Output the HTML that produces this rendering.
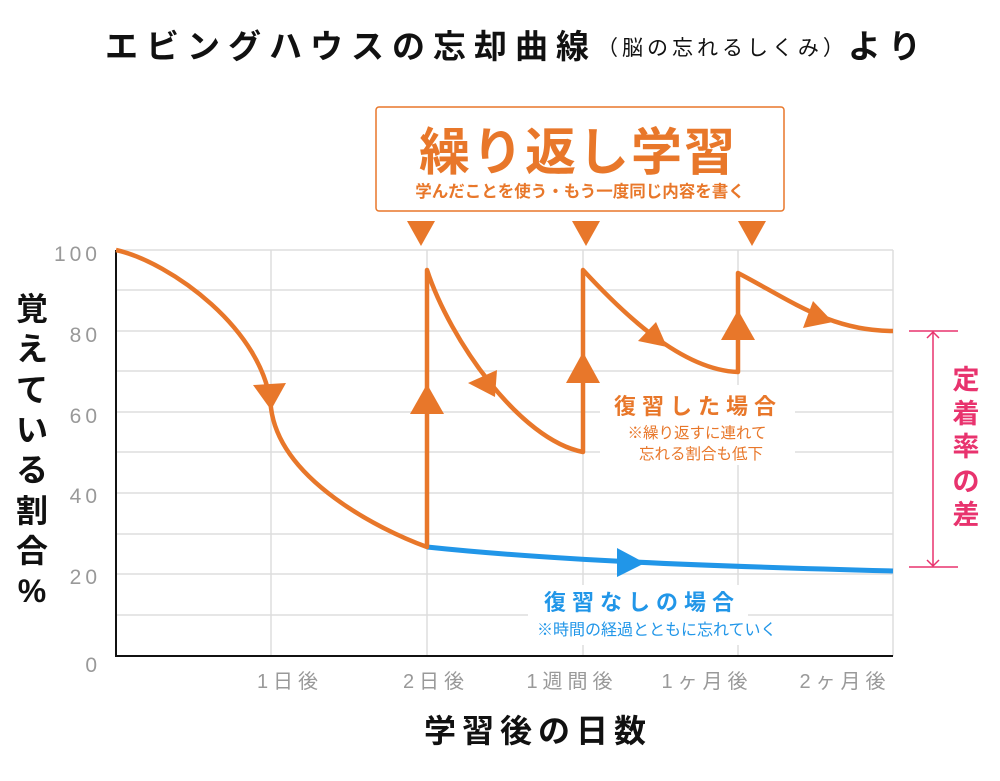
<!DOCTYPE html>
<html><head><meta charset="utf-8"><style>
body{margin:0;background:#fff;}
svg{display:block;}
text{font-family:"Liberation Sans","Noto Sans CJK JP",sans-serif;}
</style></head><body>
<svg width="1000" height="781" viewBox="0 0 1000 781" xmlns="http://www.w3.org/2000/svg">
<text x="105" y="58" font-size="33" font-weight="bold" fill="#111" letter-spacing="8">エビングハウスの忘却曲線<tspan font-size="21" font-weight="normal" dy="-3" letter-spacing="4">（脳の忘れるしくみ）</tspan><tspan dy="3">より</tspan></text>
<g stroke="#ddd" stroke-width="1.5">
<line x1="116" y1="250" x2="893" y2="250"/><line x1="116" y1="290" x2="893" y2="290"/>
<line x1="116" y1="331" x2="893" y2="331"/><line x1="116" y1="371" x2="893" y2="371"/>
<line x1="116" y1="412" x2="893" y2="412"/><line x1="116" y1="452" x2="893" y2="452"/>
<line x1="116" y1="493" x2="893" y2="493"/><line x1="116" y1="534" x2="893" y2="534"/>
<line x1="116" y1="574" x2="893" y2="574"/><line x1="116" y1="615" x2="893" y2="615"/>
<line x1="271" y1="250" x2="271" y2="656"/><line x1="427" y1="250" x2="427" y2="656"/>
<line x1="583" y1="250" x2="583" y2="656"/><line x1="738" y1="250" x2="738" y2="656"/>
<line x1="893" y1="250" x2="893" y2="656"/>
</g>
<path d="M116 250 V656 H893" fill="none" stroke="#111" stroke-width="2"/>
<g font-size="21" fill="#999" text-anchor="end" letter-spacing="4">
<text x="101" y="261">100</text><text x="101" y="342">80</text><text x="101" y="423">60</text>
<text x="101" y="503">40</text><text x="101" y="584">20</text><text x="101" y="672">0</text>
</g>
<g font-size="20" fill="#999" text-anchor="middle" letter-spacing="5">
<text x="290" y="688">1日後</text><text x="436" y="688">2日後</text><text x="572" y="688">1週間後</text>
<text x="707" y="688">1ヶ月後</text><text x="845" y="688">2ヶ月後</text>
</g>
<text x="538" y="742" font-size="32" font-weight="bold" fill="#111" text-anchor="middle" letter-spacing="6">学習後の日数</text>
<g font-size="32" font-weight="bold" fill="#111" text-anchor="middle">
<text x="32" y="320">覚</text><text x="32" y="360">え</text><text x="32" y="401">て</text><text x="32" y="441">い</text>
<text x="32" y="481">る</text><text x="32" y="522">割</text><text x="32" y="562">合</text><text x="32" y="602">%</text>
</g>
<rect x="376" y="107" width="408" height="104" rx="3" fill="#fff" stroke="#e8772a" stroke-width="1.5"/>
<text x="578" y="170" font-size="51" font-weight="bold" fill="#e8772a" text-anchor="middle" letter-spacing="2">繰り返し学習</text>
<text x="580" y="197" font-size="16.5" font-weight="bold" fill="#e8772a" text-anchor="middle">学んだことを使う・もう一度同じ内容を書く</text>
<g fill="#e8772a">
<polygon points="407,221 435,221 421,246"/><polygon points="572,221 600,221 586,246"/><polygon points="738,221 766,221 752,246"/>
</g>
<rect x="600" y="385" width="195" height="80" fill="#fff"/>
<rect x="528" y="585" width="220" height="60" fill="#fff"/>
<path d="M427 547 C550 560 700 566 893 571" fill="none" stroke="#2196e8" stroke-width="5"/>
<polygon points="617,548 617,577 645,563" fill="#2196e8"/>
<g fill="none" stroke="#e8772a" stroke-width="4.5" stroke-linejoin="round">
<path d="M116 250 C170 262 265 330 271 408 C280 480 380 530 427 547 V270 C450 340 520 440 583 452 V270 C620 310 680 370 738 372 V273 C790 300 830 331 893 331"/>
</g>
<g fill="#e8772a">
<polygon points="253,385 286,383 271,410"/>
<polygon points="410,414 444,414 427,384"/>
<polygon points="468,383 497,370 495,397"/>
<polygon points="566,383 600,383 583,352"/>
<polygon points="638,341 656,322 667,347"/>
<polygon points="721,340 755,340 738,310"/>
<polygon points="803,328 813,301 833,322"/>
</g>
<text x="698" y="414" font-size="22" font-weight="bold" fill="#e8772a" text-anchor="middle" letter-spacing="6">復習した場合</text>
<text x="697" y="438" font-size="15.5" fill="#e8772a" text-anchor="middle">※繰り返すに連れて</text>
<text x="701" y="459" font-size="15.5" fill="#e8772a" text-anchor="middle">忘れる割合も低下</text>
<text x="642" y="610" font-size="22" font-weight="bold" fill="#2196e8" text-anchor="middle" letter-spacing="6">復習なしの場合</text>
<text x="537" y="635" font-size="16" fill="#2196e8">※時間の経過とともに忘れていく</text>
<g stroke="#e8336e" stroke-width="1.5" fill="none">
<line x1="909" y1="331" x2="958" y2="331"/><line x1="909" y1="567" x2="958" y2="567"/>
<line x1="933" y1="332" x2="933" y2="566"/>
<polyline points="927,338 933,332 939,338"/><polyline points="927,560 933,566 939,560"/>
</g>
<g font-size="27" font-weight="bold" fill="#e8336e" text-anchor="middle">
<text x="966" y="389">定</text><text x="966" y="423">着</text><text x="966" y="456">率</text><text x="966" y="491">の</text><text x="966" y="524">差</text>
</g>
</svg>
</body></html>
